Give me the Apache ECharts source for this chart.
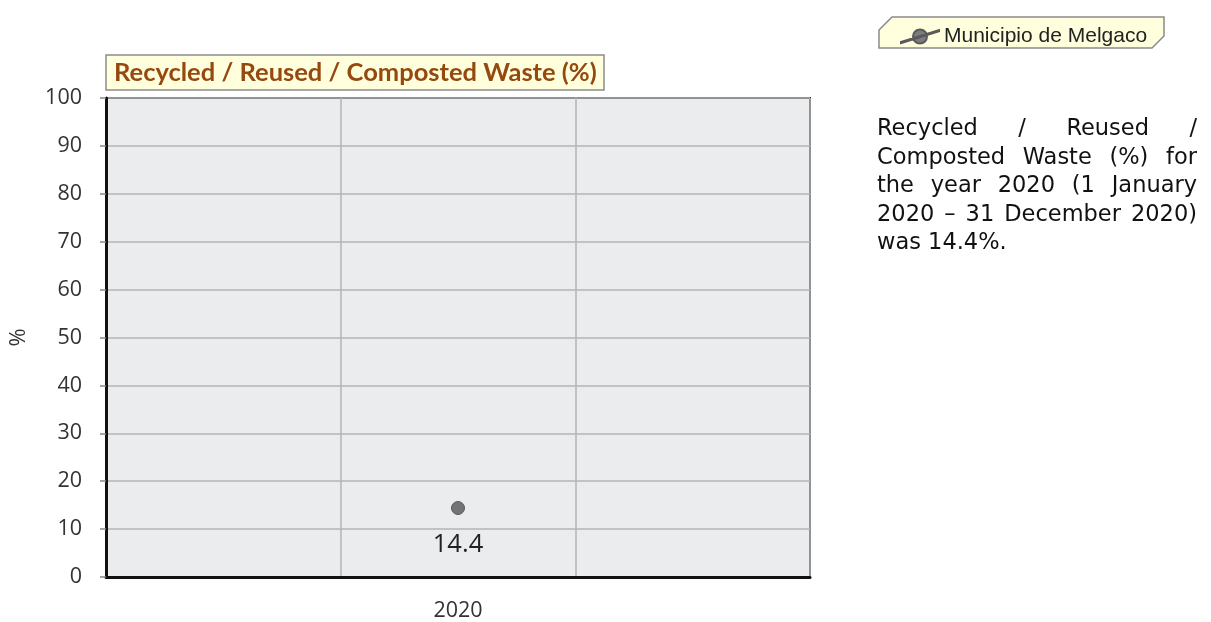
<!DOCTYPE html>
<html>
<head>
<meta charset="utf-8">
<script src="https://cdn.jsdelivr.net/npm/echarts@6/dist/echarts.min.js"></script>
<style>
  html, body { margin: 0; padding: 0; background: #fff; }
  #chart { width: 1211px; height: 622px; }
</style>
</head>
<body>
<div id="chart"></div>
<script>
// data
var years = ['', '2020', ''];
var recycled = [null, 14.4, null];
var seriesName = 'Municipio de Melgaco';
var chartTitle = 'Recycled / Reused / Composted Waste (%)';
var noteLines = [
  'Recycled / Reused /',
  'Composted Waste (%) for',
  'the year 2020 (1 January',
  '2020 \u2013 31 December 2020)',
  'was 14.4%.'
];

// justified paragraph on the right, one text element per word
function buildNote(lines, x0, x1, baseY, lineH, font) {
  var ctx = document.createElement('canvas').getContext('2d');
  ctx.font = font;
  var out = [];
  for (var i = 0; i < lines.length; i++) {
    var words = lines[i].split(' ');
    var widths = words.map(function (w) { return ctx.measureText(w).width; });
    var total = widths.reduce(function (a, b) { return a + b; }, 0);
    var gap = ctx.measureText(' ').width;
    if (i < lines.length - 1 && words.length > 1) {
      gap = (x1 - x0 - total) / (words.length - 1);
    }
    var x = x0;
    for (var j = 0; j < words.length; j++) {
      out.push({
        type: 'text',
        x: x,
        y: baseY + i * lineH,
        style: { text: words[j], font: font, fill: '#111', verticalAlign: 'bottom' }
      });
      x += widths[j] + gap;
    }
  }
  return out;
}

var chart = echarts.init(document.getElementById('chart'));

var graphics = [
  {
    type: 'polygon',
    shape: { points: [[879, 30], [892, 17], [1164, 17], [1164, 36], [1152, 48], [879, 48]] },
    style: { fill: '#FFFFDE', stroke: '#8a8a8a', lineWidth: 1.5 },
    z: 0
  }
].concat(buildNote(noteLines, 877, 1197, 141, 28.4, '22.5px "DejaVu Sans"'));

var option = {
  animation: false,
  title: {
    text: chartTitle,
    left: 106,
    top: 55,
    padding: [5, 8, 4, 8],
    backgroundColor: '#FFFFDE',
    borderColor: '#8c8c8c',
    borderWidth: 1.5,
    textStyle: {
      fontFamily: 'Lato',
      fontWeight: 'bold',
      fontSize: 25.5,
      color: '#96490E'
    }
  },
  legend: {
    left: 895,
    top: 21,
    itemWidth: 38,
    itemHeight: 15,
    icon: 'path://M0,14 L38,2 L38,3.2 L0,15.2 Z M26,8.5 A7,7 0 1,1 12,8.5 A7,7 0 1,1 26,8.5 Z',
    itemStyle: { color: '#7c7c7c' },
    textStyle: {
      fontFamily: 'Liberation Sans',
      fontSize: 21,
      color: '#222',
      padding: [0, 0, 0, 0]
    },
    data: [seriesName],
    z: 5
  },
  grid: {
    left: 104,
    right: 401,
    top: 98,
    bottom: 45,
    show: true,
    backgroundColor: '#EBECEE',
    borderColor: '#333',
    borderWidth: 2
  },
  xAxis: {
    type: 'category',
    data: years,
    boundaryGap: true,
    axisLine: { show: true, lineStyle: { color: '#111', width: 3 } },
    axisTick: { show: false },
    axisLabel: {
      margin: 23,
      fontFamily: 'Open Sans',
      fontSize: 21.5,
      color: '#333'
    },
    splitLine: { show: true, lineStyle: { color: '#b4b4b4', width: 1.5 } }
  },
  yAxis: {
    type: 'value',
    min: 0,
    max: 100,
    interval: 10,
    name: '%',
    nameLocation: 'middle',
    nameGap: 76,
    nameRotate: 90,
    nameTextStyle: { fontFamily: 'Open Sans', fontSize: 22, color: '#333' },
    axisLine: { show: true, lineStyle: { color: '#111', width: 3 } },
    axisTick: { show: true, length: 6, lineStyle: { color: '#888', width: 1.5 } },
    axisLabel: {
      margin: 24,
      fontFamily: 'Open Sans',
      fontSize: 21.5,
      color: '#333'
    },
    splitLine: { show: true, lineStyle: { color: '#b4b4b4', width: 1.5 } }
  },
  series: [
    {
      name: seriesName,
      type: 'line',
      data: recycled,
      symbol: 'circle',
      symbolSize: 13,
      itemStyle: { color: '#747474', borderColor: '#5a5a5a', borderWidth: 1 },
      lineStyle: { color: '#747474' },
      label: {
        show: true,
        position: 'bottom',
        distance: 17,
        fontFamily: 'Open Sans',
        fontSize: 25.5,
        color: '#222'
      }
    }
  ],
  graphic: graphics
};

chart.setOption(option);
</script>
</body>
</html>
